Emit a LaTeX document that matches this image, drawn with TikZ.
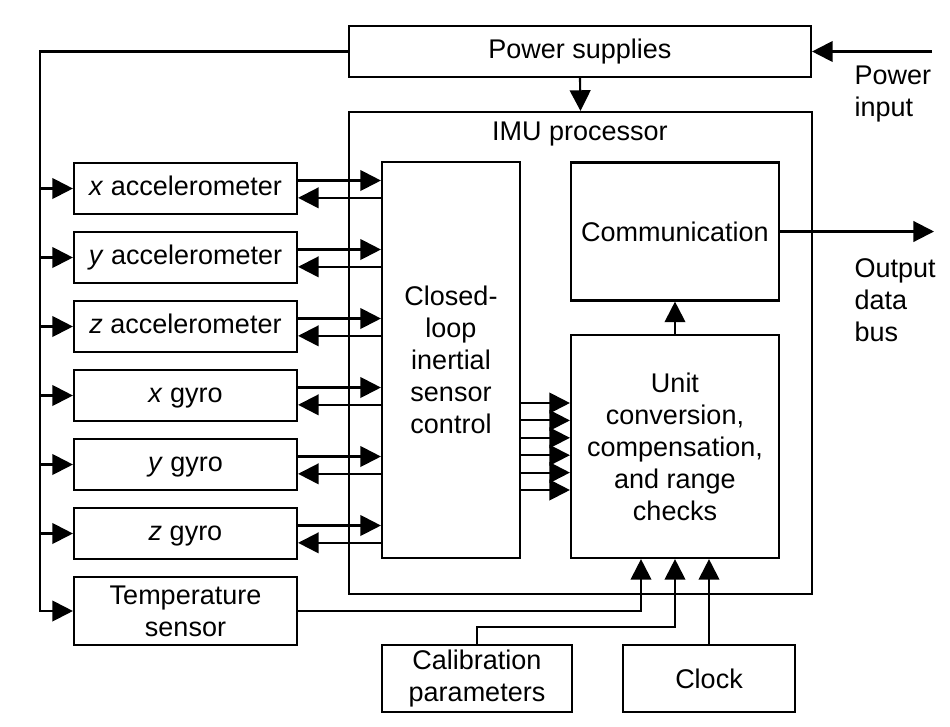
\documentclass[tikz,border=0pt]{standalone}
\usepackage{fontspec}
\setmainfont{Liberation Sans}
\usetikzlibrary{arrows.meta,positioning}

\begin{document}
\begin{tikzpicture}[x=0.75pt, y=-0.75pt, line width=1.6pt,
    font=\fontsize{20.25pt}{24pt}\selectfont,
    box/.style={draw, inner sep=0pt, align=center},
    oneline/.style={text height=14.6pt, text depth=4.2pt},
    sensor/.style={box, oneline, minimum width=167.25pt, minimum height=38.25pt},
    arr/.style={-{Triangle[length=15.5pt 0 1, width=15.5pt 0 1]}}]
    \useasboundingbox (0,0) rectangle (950,726);
    % main blocks
    \node[box, oneline, minimum width=346.5pt, minimum height=38.25pt] (ps) at (580,51.5) {Power supplies};
    \node[box, minimum width=347.25pt, minimum height=361.5pt] (imu) at (580.5,353) {};
    \node[oneline] (imutitle) at (580,134) {IMU processor};
    \node[box, minimum width=103.5pt, minimum height=297pt] (cl) at (451,360) {Closed-\\loop\\inertial\\sensor\\control};
    \node[box, minimum width=156pt, minimum height=103.5pt] (comm) at (675,231.5) {Communication};
    \node[box, minimum width=156pt, minimum height=167.25pt] (unit) at (675,446.5) {Unit\\conversion,\\compensation,\\and range\\checks};
    \node[box, minimum width=142.5pt, minimum height=50.25pt] (cal) at (477,678.5) {Calibration\\parameters};
    \node[box, minimum width=129pt, minimum height=50.25pt] (clock) at (709,678.5) {Clock};
    % sensors
    \foreach \n/\y/\t in {xa/188.5/\textit{x} accelerometer, ya/257.5/\textit{y} accelerometer,
        za/326.5/\textit{z} accelerometer, xg/395.5/\textit{x} gyro,
        yg/464.5/\textit{y} gyro, zg/533.5/\textit{z} gyro}{
        \node[sensor] (\n) at (185.5,\y) {\t};}
    \node[box, minimum width=167.25pt, minimum height=51pt] (temp) at (185.5,611) {Temperature\\sensor};
    % power
    \coordinate (bus) at (40,51.5);
    \coordinate (pin) at (932,51.5);
    \draw[arr] (pin) -- (ps.east);
    \node[anchor=west, align=left] (pinlabel) at (849,94) {Power\\input};
    \draw[arr] (ps.south) -- (imu.north);
    \draw[arr] (ps.west) -- (bus) |- (temp.west);
    \foreach \n in {xa,ya,za,xg,yg,zg}{
        \draw[arr] (bus |- \n.west) -- (\n.west);
        \coordinate (fw) at ([yshift=6pt]\n.east);
        \coordinate (bw) at ([yshift=-7pt]\n.east);
        \draw[arr] (fw) -- (fw -| cl.west);
        \draw[arr] (bw -| cl.west) -- (bw);}
    % processor links
    \foreach \y in {403,420.4,437.8,455.2,472.6,490}{
        \draw[arr] (cl.east |- 0,\y) -- (unit.west |- 0,\y);}
    \draw[arr] (unit.north) -- (comm.south);
    \coordinate (dout) at (934,231.5);
    \draw[arr] (comm.east) -- (dout);
    \node[anchor=west, align=left] (doutlabel) at (849,300) {Output\\data\\bus};
    \draw[arr] (temp.east) -| ([xshift=-25.5pt]unit.south);
    \draw[arr] (cal.north) -- ++(0,-17) -| (unit.south);
    \draw[arr] (clock.north) -- (clock.north |- unit.south);
\end{tikzpicture}
\end{document}
